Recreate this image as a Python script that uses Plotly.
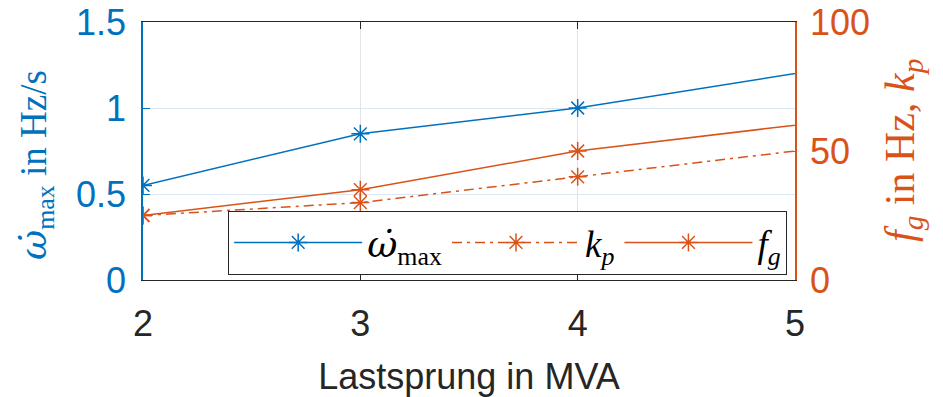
import plotly.graph_objects as go

# Data
x_vals = [2, 3, 4, 6]
omega_max = [0.55, 0.85, 1.0, 1.4]      # Hz/s, left axis
k_p = [25, 30, 40, 60]                  # right axis
f_g = [25, 35, 50, 70]                  # Hz, right axis

x_ticks = [2, 3, 4, 5]
y1_ticks = [0, 0.5, 1, 1.5]
y1_ticklabels = ["0", "0.5", "1", "1.5"]
y2_ticks = [0, 50, 100]

BLUE = "#0072BD"
ORANGE = "#D95319"
SANS = "Liberation Sans, Arial, sans-serif"
SERIF = "Liberation Serif, Times New Roman, serif"
OMEGA = "<span style='font-family:DejaVu Serif'><i>ω̇</i></span>"

fig = go.Figure()
mk = dict(symbol="asterisk-open", size=15, line=dict(width=1.5))
fig.add_trace(go.Scatter(
    x=x_vals, y=omega_max, mode="lines+markers", name=OMEGA + "<sub>max</sub>",
    line=dict(color=BLUE, width=1.5),
    marker=dict(color=BLUE, **mk), yaxis="y"))
fig.add_trace(go.Scatter(
    x=x_vals, y=k_p, mode="lines+markers", name="<i>k<sub>p</sub></i>",
    line=dict(color=ORANGE, width=1.5, dash="10px,5px,3px,5px"),
    marker=dict(color=ORANGE, **mk), yaxis="y2"))
fig.add_trace(go.Scatter(
    x=x_vals, y=f_g, mode="lines+markers", name="<i>f<sub>g</sub></i>",
    line=dict(color=ORANGE, width=1.5),
    marker=dict(color=ORANGE, **mk), yaxis="y2"))

fig.update_layout(
    width=943, height=397,
    margin=dict(l=143, r=148, t=22, b=117, autoexpand=False),
    paper_bgcolor="white", plot_bgcolor="white",
    showlegend=True,
    legend=dict(
        orientation="h", x=0.988, xanchor="right", y=0.02, yanchor="bottom",
        bgcolor="white", bordercolor="#262626", borderwidth=1,
        font=dict(family=SERIF, size=37, color="black"),
        itemwidth=128, tracegroupgap=0,
    ),
    xaxis=dict(
        range=[2, 5], tickvals=x_ticks, ticktext=[str(v) for v in x_ticks],
        showline=True, linecolor="#262626", linewidth=1.2, mirror="ticks",
        ticks="inside", ticklen=7, tickcolor="#262626",
        showgrid=True, gridcolor="#e3e3e3", gridwidth=1,
        zeroline=False, automargin=False, ticklabelstandoff=12,
        tickfont=dict(family=SANS, size=36, color="#262626"),
        title=dict(text="Lastsprung in MVA", font=dict(family=SANS, size=36, color="#262626"),
                   standoff=27),
    ),
    yaxis=dict(
        range=[0, 1.5], tickvals=y1_ticks, ticktext=y1_ticklabels,
        showline=True, linecolor=BLUE, linewidth=1.5,
        ticks="inside", ticklen=7, tickcolor=BLUE,
        showgrid=True, gridcolor="#dbe7f3", gridwidth=1,
        zeroline=False, automargin=False, ticklabelstandoff=8,
        tickfont=dict(family=SANS, size=36, color=BLUE),
    ),
    yaxis2=dict(
        range=[0, 100], tickvals=y2_ticks, overlaying="y", side="right",
        showline=True, linecolor=ORANGE, linewidth=1.5,
        ticks="inside", ticklen=7, tickcolor=ORANGE,
        showgrid=False, zeroline=False, automargin=False, ticklabelstandoff=6,
        tickfont=dict(family=SANS, size=36, color=ORANGE),
    ),
    annotations=[
        dict(text=OMEGA + "<sub>max</sub> in Hz/s", xref="paper", yref="paper",
             x=0, y=0.5, xshift=-107, yshift=-14, xanchor="center", yanchor="middle",
             textangle=-90, showarrow=False,
             font=dict(family=SERIF, size=37, color=BLUE)),
        dict(text="<i>f<sub>g</sub></i> in Hz, <i>k<sub>p</sub></i>", xref="paper", yref="paper",
             x=1, y=0.5, xshift=108, xanchor="center", yanchor="middle",
             textangle=-90, showarrow=False,
             font=dict(family=SERIF, size=42, color=ORANGE)),
    ],
)

fig.write_html("out.html")
